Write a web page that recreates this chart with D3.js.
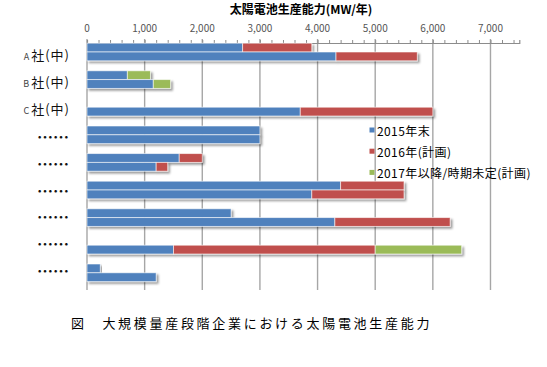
<!DOCTYPE html>
<html><head><meta charset="utf-8">
<script src="https://cdn.jsdelivr.net/npm/d3@7"></script>
<style>
html,body{margin:0;padding:0;background:#fff;}
text{font-family:"Noto Sans CJK JP","Noto Sans",sans-serif;}
</style></head>
<body><svg id="c" width="547" height="367"></svg>
<script>
// ---- data ----
const categories = ["A社(中)","B社(中)","C社(中)","……","……","……","……","……","……"];
const catPrefix = ["A","B","C","","","","","",""];
const series = ["2015年末","2016年(計画)","2017年以降/時期未定(計画)"];
const colors = ["#4F81BD","#C0504D","#9BBB59"];
// upper bar of each pair
const upper2015 = [2700, 700, 0, 3000, 1600, 4400, 2500, 0, 230];
const upper2016 = [1200, 0, 0, 0, 400, 1100, 0, 0, 0];
const upper2017 = [0, 400, 0, 0, 0, 0, 0, 0, 0];
// lower bar of each pair
const lower2015 = [4320, 1150, 3700, 3000, 1200, 3900, 4300, 1500, 1200];
const lower2016 = [1410, 0, 2300, 0, 200, 1600, 2000, 3500, 0];
const lower2017 = [0, 300, 0, 0, 0, 0, 0, 1500, 0];
const xTicks = [0,1000,2000,3000,4000,5000,6000,7000];
const title = "太陽電池生産能力(MW/年)";
const caption = "図　大規模量産段階企業における太陽電池生産能力";

// ---- build ----
const svg = d3.select("#c");
const defs = svg.append("defs");
const f = defs.append("filter").attr("id","sh").attr("x","-5%").attr("y","-30%").attr("width","115%").attr("height","180%");
f.append("feDropShadow").attr("dx",2).attr("dy",2).attr("stdDeviation",1.3)
 .attr("flood-color","#000").attr("flood-opacity",0.4);

const x = d3.scaleLinear().domain([0,7500]).range([87,519.3]);
const idx = d3.range(categories.length);
const y = d3.scaleBand().domain(idx).range([38.2,286.6]).padding(0);
const sub = d3.scaleBand().domain([0,1]).range([y.bandwidth()/2-8.8, y.bandwidth()/2+8.8]).padding(0);
const labelY = d3.scalePoint().domain(idx).range([55.2,270.2]);

const plotTop = 43, plotBottom = 290;

// gridlines
const g = svg.append("g");
g.selectAll("line.grid").data(xTicks.filter(d=>d>0)).join("line")
 .attr("x1",d=>x(d)).attr("x2",d=>x(d)).attr("y1",39).attr("y2",plotBottom)
 .attr("stroke","#a6a6a6").attr("stroke-width",1.4);
// left axis line
g.append("line").attr("x1",x(0)).attr("x2",x(0)).attr("y1",39).attr("y2",plotBottom)
 .attr("stroke","#a6a6a6").attr("stroke-width",1.4);

// top axis
const axis = d3.axisTop(x).tickValues(d3.range(0,7501,200)).tickSize(3).tickFormat("");
const ax = svg.append("g").attr("transform",`translate(0,${plotTop})`).call(axis);
ax.select(".domain").attr("stroke","#8c8c8c").attr("stroke-width",1.2);
ax.selectAll(".tick line").attr("stroke","#8c8c8c").attr("stroke-width",1);
svg.append("g").selectAll("text").data(xTicks).join("text")
 .attr("x",d=>x(d)).attr("y",27).attr("text-anchor","middle").attr("dominant-baseline","central")
 .attr("font-size",10).attr("fill","#555").text(d3.format(","));

// title
svg.append("text").attr("x",301).attr("y",8).attr("text-anchor","middle").attr("dominant-baseline","central")
 .attr("font-size",12).attr("font-weight","bold").attr("fill","#000").text(title);

// bars
const rows = [[upper2015,upper2016,upper2017],[lower2015,lower2016,lower2017]];
const barsG = svg.append("g");
rows.forEach((r,ri)=>{
  idx.forEach(i=>{
    let acc = 0;
    const segs = r.map((arr,si)=>{const s={x0:acc,x1:acc+arr[i],si}; acc+=arr[i]; return s;}).filter(s=>s.x1>s.x0);
    if(!segs.length) return;
    const gg = barsG.append("g").attr("filter","url(#sh)");
    gg.selectAll("rect").data(segs).join("rect")
      .attr("x",s=>x(s.x0)).attr("width",s=>x(s.x1)-x(s.x0))
      .attr("y",y(i)+sub(ri)).attr("height",sub.bandwidth())
      .attr("fill",s=>colors[s.si])
      .attr("stroke","rgba(255,255,255,0.65)").attr("stroke-width",0.9);
  });
});

// category labels
const cl = svg.append("g");
idx.forEach(i=>{
  if(catPrefix[i]){
    const t = cl.append("text").attr("x",70).attr("y",labelY(i)+4.6).attr("text-anchor","end").attr("fill","#111");
    t.append("tspan").attr("font-size",9).attr("fill","#444").text(catPrefix[i]+" ");
    t.append("tspan").attr("font-size",13).attr("letter-spacing",1).text(categories[i].slice(1));
  } else {
    cl.append("text").attr("x",69).attr("y",labelY(i)).attr("text-anchor","end")
      .attr("dominant-baseline","central").attr("fill","#111")
      .attr("font-size",16).attr("font-weight","bold").text(categories[i]);
  }
});

// legend
const lg = svg.append("g");
series.forEach((s,si)=>{
  const ly = 130 + si*21.2;
  lg.append("rect").attr("x",369.5).attr("y",ly-2.5).attr("width",5).attr("height",5).attr("fill",colors[si]);
  lg.append("text").attr("x",377).attr("y",ly).attr("dominant-baseline","central")
    .attr("font-size",12).attr("letter-spacing",0.4).attr("fill","#000").text(s);
});

// caption
svg.append("text").attr("x",71).attr("y",322).attr("dominant-baseline","central")
 .attr("font-size",13).attr("letter-spacing",2.7).attr("fill","#000").text(caption);
</script></body></html>
